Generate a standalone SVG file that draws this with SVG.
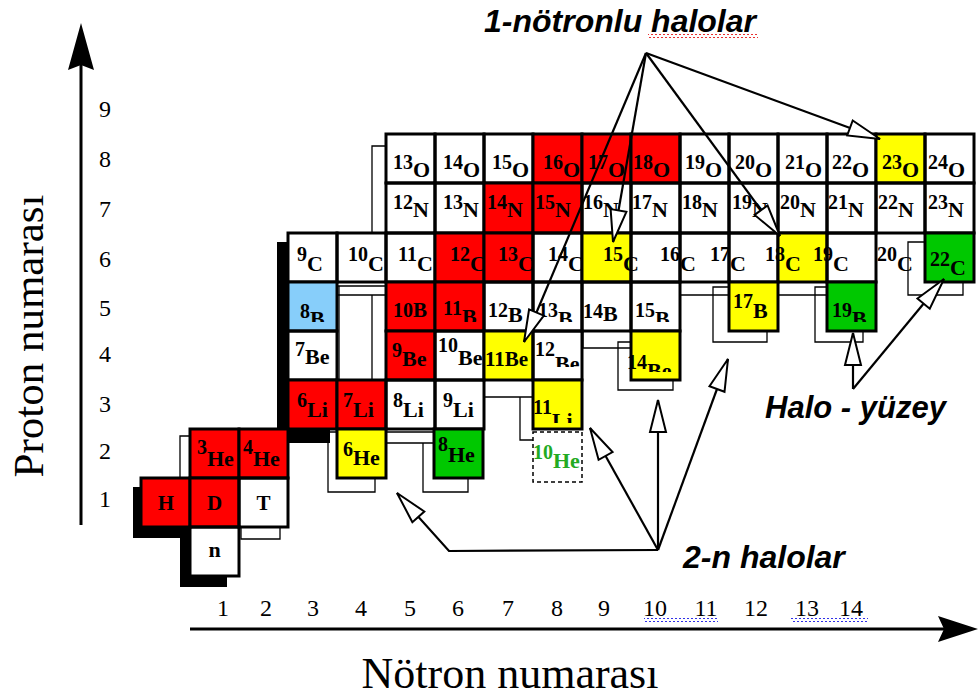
<svg xmlns="http://www.w3.org/2000/svg" width="980" height="698" viewBox="0 0 980 698">
<style>
.c{stroke:#000;stroke-width:3;fill:none}
.r{fill:#ff0000}
.y{fill:#ffff00}
.g{fill:#00c800}
.b{fill:#87cefa}
.t{font-family:"Liberation Serif","Times New Roman",serif;font-weight:bold;fill:#000}
.m{font-size:20px}
.s{font-size:22px}
.ax{font-family:"Liberation Serif","Times New Roman",serif;font-size:24px;fill:#000}
.tt{font-family:"Liberation Serif","Times New Roman",serif;font-size:44px;fill:#000}
.an{font-family:"Liberation Sans",Arial,sans-serif;font-weight:bold;font-style:italic;font-size:32px;fill:#000}
.thin{fill:none;stroke:#000;stroke-width:1.3}
.cn{fill:none;stroke:#000;stroke-width:2.2}
</style>
<defs>
<marker id="oa" markerUnits="userSpaceOnUse" markerWidth="40" markerHeight="22" refX="33" refY="9" orient="auto" overflow="visible">
<path d="M1,1 L33,9 L1,17 Z" fill="#fff" stroke="#000" stroke-width="2"/>
</marker>
<pattern id="wr" width="4" height="4" patternUnits="userSpaceOnUse"><path d="M0,3 L2,1 L4,3" stroke="#e83030" stroke-width="1" fill="none"/></pattern>
<pattern id="wb" width="4" height="4" patternUnits="userSpaceOnUse"><path d="M0,3 L2,1 L4,3" stroke="#3030e8" stroke-width="1" fill="none"/></pattern>
<clipPath id="kB"><rect x="280" y="280" width="700" height="42"/></clipPath>
<clipPath id="k12Be"><rect x="280" y="329" width="700" height="38"/></clipPath>
<clipPath id="k14Be"><rect x="280" y="329" width="700" height="43"/></clipPath>
<clipPath id="kLi"><rect x="280" y="378" width="700" height="45"/></clipPath>
</defs>
<rect width="980" height="698" fill="#fff"/>

<g id="axes">
<line x1="81" y1="525" x2="81" y2="62" stroke="#000" stroke-width="3"/>
<path d="M81,23 L94,70 L81,65 L68,70 Z" fill="#000"/>
<line x1="190" y1="629" x2="945" y2="629" stroke="#000" stroke-width="3"/>
<path d="M978,629 L938,642 L944,629 L938,616 Z" fill="#000"/>
<g class="ax" text-anchor="middle">
<text x="105" y="117">9</text><text x="105" y="167">8</text><text x="105" y="217">7</text>
<text x="105" y="267">6</text><text x="105" y="316">5</text><text x="105" y="362">4</text>
<text x="105" y="412">3</text><text x="105" y="459">2</text><text x="105" y="507">1</text>
<text x="223" y="616">1</text><text x="266" y="616">2</text><text x="313" y="616">3</text>
<text x="361" y="616">4</text><text x="410" y="616">5</text><text x="458" y="616">6</text>
<text x="508" y="616">7</text><text x="557" y="616">8</text><text x="604" y="616">9</text>
<text x="655" y="616">10</text><text x="706" y="616">11</text><text x="756" y="616">12</text>
<text x="807" y="616">13</text><text x="851" y="616">14</text>
</g>
<rect x="644" y="618" width="74" height="4" fill="url(#wb)"/>
<rect x="791" y="618" width="77" height="4" fill="url(#wb)"/>
<text class="tt" transform="translate(43,336) rotate(-90)" text-anchor="middle" style="font-size:43px">Proton numarası</text>
<text class="tt" x="510" y="688" text-anchor="middle">Nötron numarası</text>
</g>

<g id="background">
<path d="M277,242 H288 V428 H330 V443 H277 Z" fill="#000"/>
<path d="M133,487 H141 V527 H190 V576 H227 V587 H180 V538 H133 Z" fill="#000"/>
<path class="thin" d="M386,146 H372 V233"/>
<path class="thin" d="M338,286 H386 M338,295 H386 M372,295 V380 M339,286 V380"/>
<path class="thin" d="M190,436 H180 V478"/>
<path class="thin" d="M241,527 V539 H280 V527"/>
<path class="thin" d="M337,432 H328 V492 H375 V478"/>
<path class="thin" d="M386,432 H434 M386,443 H434 M423,443 V492 H468 V478"/>
<path class="thin" d="M484,397 H533 M520,397 V440 H533"/>
<path class="thin" d="M583,331 V348 H631 M631,342 H618 V390 H673 V380"/>
<path class="thin" d="M680,295 H729 M729,287 H713 V342 H767 V331"/>
<path class="thin" d="M778,295 H827 M827,287 H815 V342 H863 V331"/>
<path class="thin" d="M925,242 H908 V295 H963 V282"/>
</g>

<g id="row-O">
<g id="O13"><rect class="c" x="386" y="134" width="49" height="49"/><text class="t" x="393" y="169"><tspan class="m">13</tspan><tspan class="s" dy="8">O</tspan></text></g>
<g id="O14"><rect class="c" x="435" y="134" width="49" height="49"/><text class="t" x="443" y="169"><tspan class="m">14</tspan><tspan class="s" dy="8">O</tspan></text></g>
<g id="O15"><rect class="c" x="484" y="134" width="49" height="49"/><text class="t" x="492" y="169"><tspan class="m">15</tspan><tspan class="s" dy="8">O</tspan></text></g>
<g id="O16"><rect class="c r" x="533" y="134" width="49" height="49"/><text class="t" x="543" y="169"><tspan class="m">16</tspan><tspan class="s" dy="8">O</tspan></text></g>
<g id="O17"><rect class="c r" x="582" y="134" width="49" height="49"/><text class="t" x="588" y="169"><tspan class="m">17</tspan><tspan class="s" dy="8">O</tspan></text></g>
<g id="O18"><rect class="c r" x="631" y="134" width="49" height="49"/><text class="t" x="633" y="169"><tspan class="m">18</tspan><tspan class="s" dy="8">O</tspan></text></g>
<g id="O19"><rect class="c" x="680" y="134" width="49" height="49"/><text class="t" x="685" y="169"><tspan class="m">19</tspan><tspan class="s" dy="8">O</tspan></text></g>
<g id="O20"><rect class="c" x="729" y="134" width="49" height="49"/><text class="t" x="735" y="169"><tspan class="m">20</tspan><tspan class="s" dy="8">O</tspan></text></g>
<g id="O21"><rect class="c" x="778" y="134" width="49" height="49"/><text class="t" x="785" y="169"><tspan class="m">21</tspan><tspan class="s" dy="8">O</tspan></text></g>
<g id="O22"><rect class="c" x="827" y="134" width="49" height="49"/><text class="t" x="832" y="169"><tspan class="m">22</tspan><tspan class="s" dy="8">O</tspan></text></g>
<g id="O23"><rect class="c y" x="876" y="134" width="49" height="49"/><text class="t" x="882" y="169"><tspan class="m">23</tspan><tspan class="s" dy="8">O</tspan></text></g>
<g id="O24"><rect class="c" x="925" y="134" width="49" height="49"/><text class="t" x="928" y="169"><tspan class="m">24</tspan><tspan class="s" dy="8">O</tspan></text></g>
</g>

<g id="row-N">
<g id="N12"><rect class="c" x="386" y="183" width="49" height="50"/><text class="t" x="393" y="209"><tspan class="m">12</tspan><tspan class="s" dy="8">N</tspan></text></g>
<g id="N13"><rect class="c" x="435" y="183" width="49" height="50"/><text class="t" x="443" y="209"><tspan class="m">13</tspan><tspan class="s" dy="8">N</tspan></text></g>
<g id="N14"><rect class="c r" x="484" y="183" width="49" height="50"/><text class="t" x="487" y="209"><tspan class="m">14</tspan><tspan class="s" dy="8">N</tspan></text></g>
<g id="N15"><rect class="c r" x="533" y="183" width="49" height="50"/><text class="t" x="535" y="209"><tspan class="m">15</tspan><tspan class="s" dy="8">N</tspan></text></g>
<g id="N16"><rect class="c" x="582" y="183" width="49" height="50"/><text class="t" x="583" y="209"><tspan class="m">16</tspan><tspan class="s" dy="8">N</tspan></text></g>
<g id="N17"><rect class="c" x="631" y="183" width="49" height="50"/><text class="t" x="632" y="209"><tspan class="m">17</tspan><tspan class="s" dy="8">N</tspan></text></g>
<g id="N18"><rect class="c" x="680" y="183" width="49" height="50"/><text class="t" x="682" y="209"><tspan class="m">18</tspan><tspan class="s" dy="8">N</tspan></text></g>
<g id="N19"><rect class="c" x="729" y="183" width="49" height="50"/><text class="t" x="732" y="209"><tspan class="m">19</tspan><tspan class="s" dy="8">N</tspan></text></g>
<g id="N20"><rect class="c" x="778" y="183" width="49" height="50"/><text class="t" x="780" y="209"><tspan class="m">20</tspan><tspan class="s" dy="8">N</tspan></text></g>
<g id="N21"><rect class="c" x="827" y="183" width="49" height="50"/><text class="t" x="828" y="209"><tspan class="m">21</tspan><tspan class="s" dy="8">N</tspan></text></g>
<g id="N22"><rect class="c" x="876" y="183" width="49" height="50"/><text class="t" x="878" y="209"><tspan class="m">22</tspan><tspan class="s" dy="8">N</tspan></text></g>
<g id="N23"><rect class="c" x="925" y="183" width="49" height="50"/><text class="t" x="928" y="209"><tspan class="m">23</tspan><tspan class="s" dy="8">N</tspan></text></g>
</g>

<g id="row-C">
<g id="C9"><rect class="c" x="288" y="233" width="49" height="49"/><text class="t" x="297" y="261"><tspan class="m">9</tspan><tspan class="s" dy="10">C</tspan></text></g>
<g id="C10"><rect class="c" x="337" y="233" width="49" height="49"/><text class="t" x="348" y="261"><tspan class="m">10</tspan><tspan class="s" dy="10">C</tspan></text></g>
<g id="C11"><rect class="c" x="386" y="233" width="49" height="49"/><text class="t" x="398" y="261"><tspan class="m">11</tspan><tspan class="s" dy="10">C</tspan></text></g>
<g id="C12"><rect class="c r" x="435" y="233" width="49" height="49"/><text class="t" x="450" y="261"><tspan class="m">12</tspan><tspan class="s" dy="10">C</tspan></text></g>
<g id="C13"><rect class="c r" x="484" y="233" width="49" height="49"/><text class="t" x="498" y="261"><tspan class="m">13</tspan><tspan class="s" dy="10">C</tspan></text></g>
<g id="C14"><rect class="c" x="533" y="233" width="49" height="49"/><text class="t" x="548" y="261"><tspan class="m">14</tspan><tspan class="s" dy="10">C</tspan></text></g>
<g id="C15"><rect class="c y" x="582" y="233" width="49" height="49"/><text class="t" x="603" y="261"><tspan class="m">15</tspan><tspan class="s" dy="10">C</tspan></text></g>
<g id="C16"><rect class="c" x="631" y="233" width="49" height="49"/><text class="t" x="660" y="261"><tspan class="m">16</tspan><tspan class="s" dy="10">C</tspan></text></g>
<g id="C17"><rect class="c" x="680" y="233" width="49" height="49"/><text class="t" x="710" y="261"><tspan class="m">17</tspan><tspan class="s" dy="10">C</tspan></text></g>
<g id="C-box12"><rect class="c" x="729" y="233" width="49" height="49"/></g>
<g id="C18"><rect class="c y" x="778" y="233" width="49" height="49"/><text class="t" x="765" y="261"><tspan class="m">18</tspan><tspan class="s" dy="10">C</tspan></text></g>
<g id="C19"><rect class="c" x="827" y="233" width="49" height="49"/><text class="t" x="813" y="261"><tspan class="m">19</tspan><tspan class="s" dy="10">C</tspan></text></g>
<g id="C20"><text class="t" x="877" y="261"><tspan class="m">20</tspan><tspan class="s" dy="10">C</tspan></text></g>
<g id="C22"><rect class="c g" x="925" y="233" width="49" height="49"/><text class="t" x="930" y="266"><tspan class="m">22</tspan><tspan class="s" dy="9">C</tspan></text></g>
</g>

<g id="row-B">
<g id="B8"><rect class="c b" x="288" y="282" width="49" height="49"/><text class="t" x="300" y="318" clip-path="url(#kB)"><tspan class="m">8</tspan><tspan class="s" dy="8">B</tspan></text></g>
<g id="B10"><rect class="c r" x="386" y="282" width="49" height="49"/><text class="t" x="393" y="317"><tspan class="m">10</tspan><tspan style="font-size:21px">B</tspan></text></g>
<g id="B11"><rect class="c r" x="435" y="282" width="49" height="49"/><text class="t" x="443" y="315" clip-path="url(#kB)"><tspan class="m">11</tspan><tspan class="s" dy="9">B</tspan></text></g>
<g id="B12"><rect class="c" x="484" y="282" width="49" height="49"/><text class="t" x="488" y="317" clip-path="url(#kB)"><tspan class="m">12</tspan><tspan class="s" dy="5">B</tspan></text></g>
<g id="B13"><rect class="c" x="533" y="282" width="49" height="49"/><text class="t" x="538" y="317" clip-path="url(#kB)"><tspan class="m">13</tspan><tspan class="s" dy="9">B</tspan></text></g>
<g id="B14"><rect class="c" x="582" y="282" width="49" height="49"/><text class="t" x="583" y="318"><tspan class="m">14</tspan><tspan class="s" dy="3">B</tspan></text></g>
<g id="B15"><rect class="c" x="631" y="282" width="49" height="49"/><text class="t" x="635" y="317" clip-path="url(#kB)"><tspan class="m">15</tspan><tspan class="s" dy="9">B</tspan></text></g>
<g id="B17"><rect class="c y" x="729" y="282" width="49" height="49"/><text class="t" x="733" y="308"><tspan class="m">17</tspan><tspan class="s" dy="10">B</tspan></text></g>
<g id="B19"><rect class="c g" x="827" y="282" width="49" height="49"/><text class="t" x="832" y="317" clip-path="url(#kB)"><tspan class="m">19</tspan><tspan class="s" dy="9">B</tspan></text></g>
</g>

<g id="row-Be">
<g id="Be7"><rect class="c" x="288" y="331" width="49" height="49"/><text class="t" x="295" y="356"><tspan class="m">7</tspan><tspan class="s" dy="8">Be</tspan></text></g>
<g id="Be9"><rect class="c r" x="386" y="331" width="49" height="49"/><text class="t" x="392" y="357"><tspan class="m">9</tspan><tspan class="s" dy="9">Be</tspan></text></g>
<g id="Be10"><rect class="c" x="435" y="331" width="49" height="49"/><text class="t" x="438" y="352"><tspan class="m">10</tspan><tspan class="s" dy="13">Be</tspan></text></g>
<g id="Be11"><rect class="c y" x="484" y="331" width="49" height="49"/><text class="t" x="485" y="366" style="font-size:21px">11Be</text></g>
<g id="Be12"><rect class="c" x="533" y="331" width="49" height="49"/><text class="t" x="535" y="356" clip-path="url(#k12Be)"><tspan class="m">12</tspan><tspan class="s" dy="15">Be</tspan></text></g>
<g id="Be14"><rect class="c y" x="631" y="331" width="49" height="49"/><text class="t" x="627" y="369" clip-path="url(#k14Be)"><tspan class="m">14</tspan><tspan class="s" dy="9">Be</tspan></text></g>
</g>

<g id="row-Li">
<g id="Li6"><rect class="c r" x="288" y="380" width="49" height="49"/><text class="t" x="297" y="407"><tspan class="m">6</tspan><tspan class="s" dy="10">Li</tspan></text></g>
<g id="Li7"><rect class="c r" x="337" y="380" width="49" height="49"/><text class="t" x="343" y="407"><tspan class="m">7</tspan><tspan class="s" dy="10">Li</tspan></text></g>
<g id="Li8"><rect class="c" x="386" y="380" width="49" height="49"/><text class="t" x="393" y="407"><tspan class="m">8</tspan><tspan class="s" dy="10">Li</tspan></text></g>
<g id="Li9"><rect class="c" x="435" y="380" width="49" height="49"/><text class="t" x="443" y="407"><tspan class="m">9</tspan><tspan class="s" dy="10">Li</tspan></text></g>
<g id="Li11"><rect class="c y" x="533" y="380" width="49" height="49"/><text class="t" x="533" y="414" clip-path="url(#kLi)"><tspan class="m">11</tspan><tspan class="s" dy="14">Li</tspan></text></g>
</g>

<g id="row-He">
<g id="He3"><rect class="c r" x="190" y="429" width="49" height="49"/><text class="t" x="197" y="454"><tspan class="m">3</tspan><tspan class="s" dy="12">He</tspan></text></g>
<g id="He4"><rect class="c r" x="239" y="429" width="49" height="49"/><text class="t" x="243" y="454"><tspan class="m">4</tspan><tspan class="s" dy="12">He</tspan></text></g>
<g id="He6"><rect class="c y" x="337" y="429" width="49" height="49"/><text class="t" x="343" y="456"><tspan class="m">6</tspan><tspan class="s" dy="9">He</tspan></text></g>
<g id="He8"><rect class="c g" x="434" y="429" width="49" height="49"/><text class="t" x="438" y="451"><tspan class="m">8</tspan><tspan class="s" dy="11">He</tspan></text></g>
<g id="He10"><rect x="533" y="432" width="49" height="50" fill="none" stroke="#000" stroke-width="1.5" stroke-dasharray="4,3"/><text class="t" x="533" y="459" style="fill:#22aa22"><tspan class="m">10</tspan><tspan class="s" dy="9">He</tspan></text></g>
</g>

<g id="row-H">
<g id="H1"><rect class="c r" x="141" y="478" width="49" height="49"/><text class="t" x="166" y="510" text-anchor="middle" style="font-size:21px">H</text></g>
<g id="D"><rect class="c r" x="190" y="478" width="49" height="49"/><text class="t" x="214.5" y="510" text-anchor="middle" style="font-size:21px">D</text></g>
<g id="T"><rect class="c" x="239" y="478" width="49" height="49"/><text class="t" x="263.5" y="510" text-anchor="middle" style="font-size:21px">T</text></g>
<g id="n"><rect class="c" x="190" y="527" width="49" height="49"/><text class="t" x="214.5" y="557" text-anchor="middle" style="font-size:22px">n</text></g>
</g>

<g id="labels">
<text class="an" x="484" y="32">1-nötronlu halolar</text>
<rect x="648" y="34" width="110" height="4" fill="url(#wr)"/>
<text class="an" x="683" y="568">2-n halolar</text>
<text class="an" x="765" y="418" style="font-size:31px">Halo - yüzey</text>
</g>

<g id="connectors">
<path class="cn" d="M646,53 L880,139" marker-end="url(#oa)"/>
<path class="cn" d="M646,53 L780,236" marker-end="url(#oa)"/>
<path class="cn" d="M646,53 L613,242" marker-end="url(#oa)"/>
<path class="cn" d="M646,53 L524,342" marker-end="url(#oa)"/>
<path class="cn" d="M658,550 L449,551 L397,493" marker-end="url(#oa)"/>
<path class="cn" d="M658,550 L590,428" marker-end="url(#oa)"/>
<path class="cn" d="M658,550 L658,400" marker-end="url(#oa)"/>
<path class="cn" d="M658,550 L728,359" marker-end="url(#oa)"/>
<path class="cn" d="M853,389 L853,333" marker-end="url(#oa)"/>
<path class="cn" d="M853,389 L944,279" marker-end="url(#oa)"/>
</g>
</svg>
